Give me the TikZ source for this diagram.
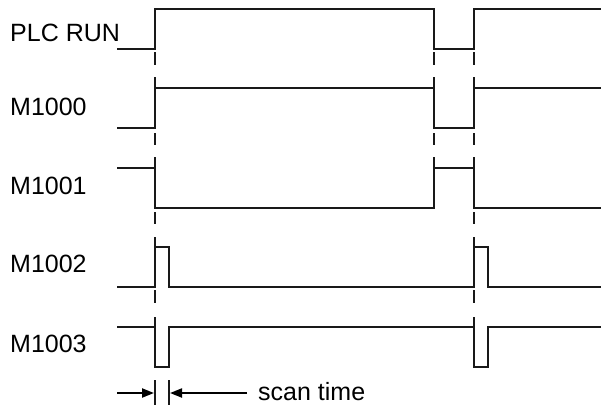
\documentclass[tikz,border=0pt]{standalone}
\usepackage{fontspec}
\setmainfont{Liberation Sans}
\usetikzlibrary{arrows.meta}
\begin{document}
\begin{tikzpicture}[x=1pt,y=-1pt,
  sig/.style={line width=2.1pt,line join=miter,color=black!90},
  dsh/.style={line width=2.1pt,color=black!90},
  lbl/.style={anchor=base west,inner sep=0pt,font=\fontsize{25}{30}\selectfont},
  arr/.style={line width=2.1pt,-{Triangle[length=12pt,width=9pt]}}]
\useasboundingbox (0,0) rectangle (601,405);
% labels
\node[lbl] (lplc) at (10,41) {PLC RUN};
\node[lbl] (l1000) at (10,115) {M1000};
\node[lbl] (l1001) at (10,194) {M1001};
\node[lbl] (l1002) at (10,272) {M1002};
\node[lbl] (l1003) at (10,352) {M1003};
% signals
\draw[sig] (117,49) -- (155,49) -- (155,9) -- (434,9) -- (434,49) -- (474,49) -- (474,9) -- (601,9);
\draw[sig] (117,128) -- (155,128) -- (155,88) -- (434,88) -- (434,128) -- (474,128) -- (474,88) -- (601,88);
\draw[sig] (117,168) -- (155,168) -- (155,208) -- (434,208) -- (434,168) -- (474,168) -- (474,208) -- (601,208);
\draw[sig] (117,287) -- (155,287) -- (155,247) -- (169,247) -- (169,287) -- (474,287) -- (474,247) -- (488,247) -- (488,287) -- (601,287);
\draw[sig] (117,327) -- (155,327) -- (155,367) -- (169,367) -- (169,327) -- (474,327) -- (474,367) -- (488,367) -- (488,327) -- (601,327);
% edge extensions and dashes
\foreach \x in {155,434,474} {
  \draw[dsh] (\x,77) -- (\x,88);
  \draw[dsh] (\x,157) -- (\x,168);
  \draw[dsh] (\x,52) -- (\x,65);
  \draw[dsh] (\x,133) -- (\x,145);
}
\foreach \x in {155,474} {
  \draw[dsh] (\x,237) -- (\x,247);
  \draw[dsh] (\x,317) -- (\x,327);
  \draw[dsh] (\x,212) -- (\x,224);
  \draw[dsh] (\x,290) -- (\x,303);
}
% scan time
\coordinate (s1t) at (155,380); \coordinate (s1b) at (155,405);
\coordinate (s2t) at (169,380); \coordinate (s2b) at (169,405);
\draw[dsh] (s1t) -- (s1b);
\draw[dsh] (s2t) -- (s2b);
\coordinate (al) at (117,393); \coordinate (ar) at (247,393);
\coordinate (tl) at (154,393); \coordinate (tr) at (170,393);
\draw[arr] (al) -- (tl);
\draw[arr] (ar) -- (tr);
\node[lbl] (scan) at (258,400) {scan time};
\end{tikzpicture}
\end{document}
